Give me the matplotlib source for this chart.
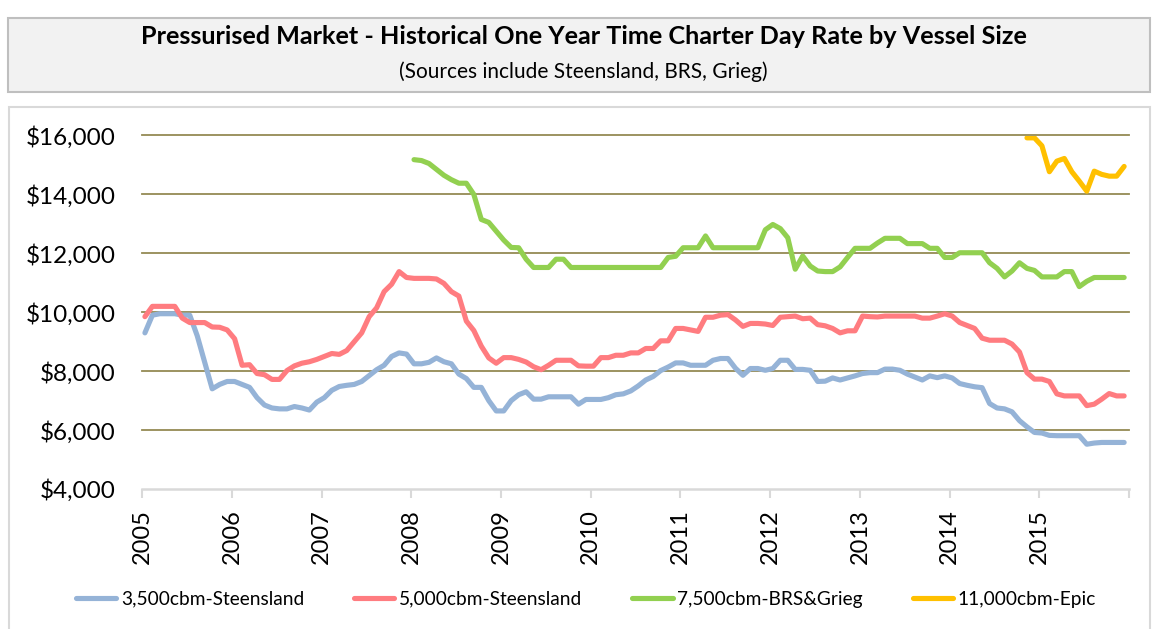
import numpy as np
import matplotlib
matplotlib.use("Agg")
import matplotlib.pyplot as plt
from matplotlib.patches import Rectangle

plt.rcParams['font.family'] = ['Lato', 'DejaVu Sans']

# monthly series, Jan 2005 .. Dec 2015
years = list(range(2005, 2017))
year_labels = [str(y) for y in range(2005, 2016)] + [""]
y_ticks = [4000, 6000, 8000, 10000, 12000, 14000, 16000]

rate_3500 = [
    9300, 9900, 9950, 9950, 9950, 9900, 9900, 9200, 8300, 7400, 7550, 7650,
    7650, 7550, 7450, 7100, 6850, 6750, 6720, 6720, 6800, 6750, 6680, 6950,
    7100, 7350, 7480, 7520, 7550, 7650, 7850, 8050, 8200, 8500, 8620, 8580,
    8250, 8250, 8300, 8450, 8320, 8250, 7900, 7750, 7450, 7450, 7000, 6650,
    6650, 7000, 7200, 7300, 7050, 7050, 7130, 7130, 7130, 7130, 6880, 7040,
    7040, 7040, 7100, 7200, 7230, 7330, 7500, 7700, 7820, 8020, 8140, 8280,
    8280, 8200, 8200, 8200, 8370, 8430, 8430, 8100, 7860, 8090, 8090, 8030,
    8090, 8370, 8370, 8060, 8060, 8030, 7650, 7660, 7770, 7700, 7770, 7840,
    7920, 7950, 7950, 8070, 8070, 8030, 7900, 7800, 7700, 7840, 7780, 7840,
    7770, 7580, 7520, 7470, 7440, 6900, 6750, 6720, 6620, 6320, 6110, 5920,
    5900, 5820, 5810, 5810, 5810, 5810, 5520, 5560, 5580, 5580, 5580, 5580,
]

rate_5000 = [
    9850, 10200, 10200, 10200, 10200, 9800, 9650, 9650, 9650, 9500, 9490, 9400,
    9100, 8200, 8220, 7920, 7880, 7720, 7720, 8020, 8180, 8270, 8320, 8400,
    8500, 8600, 8570, 8700, 9000, 9300, 9850, 10150, 10700, 10950, 11380, 11180,
    11150, 11150, 11150, 11130, 10980, 10700, 10550, 9700, 9380, 8850, 8450, 8270,
    8460, 8460, 8400, 8310, 8150, 8050, 8200, 8370, 8370, 8370, 8180, 8170,
    8170, 8460, 8460, 8540, 8540, 8620, 8620, 8770, 8770, 9030, 9030, 9450,
    9450, 9400, 9350, 9830, 9830, 9900, 9920, 9740, 9520, 9620, 9620, 9600,
    9550, 9830, 9850, 9870, 9780, 9800, 9580, 9540, 9450, 9300, 9370, 9370,
    9870, 9850, 9840, 9870, 9870, 9870, 9870, 9870, 9800, 9800, 9870, 9950,
    9870, 9650, 9550, 9450, 9120, 9050, 9050, 9050, 8920, 8650, 7950, 7730,
    7730, 7650, 7230, 7160, 7160, 7160, 6830, 6880, 7050, 7240, 7160, 7160,
]

# starts Jan 2008
rate_7500 = [
    15180, 15150, 15050, 14850, 14650, 14500, 14380, 14380, 14000, 13150, 13050, 12750,
    12450, 12200, 12190, 11800, 11520, 11520, 11520, 11800, 11800, 11520, 11520, 11520,
    11520, 11520, 11520, 11520, 11520, 11520, 11520, 11520, 11520, 11520, 11860, 11900,
    12190, 12190, 12190, 12590, 12190, 12190, 12190, 12190, 12190, 12190, 12190, 12800,
    12980, 12840, 12530, 11460, 11910, 11570, 11400, 11380, 11380, 11540, 11860, 12170,
    12170, 12170, 12350, 12510, 12510, 12510, 12330, 12330, 12330, 12170, 12170, 11860,
    11860, 12020, 12020, 12020, 12020, 11680, 11490, 11200, 11400, 11680, 11490, 11420,
    11200, 11200, 11200, 11380, 11380, 10870, 11050, 11180, 11180, 11180, 11180, 11180,
]

# starts Nov 2014
rate_11000 = [15920, 15920, 15650, 14770, 15130, 15220, 14770, 14450, 14110,
              14790, 14680, 14620, 14620, 14950]

labels = ["3,500cbm-Steensland", "5,000cbm-Steensland",
          "7,500cbm-BRS&Grieg", "11,000cbm-Epic"]
colors = ["#95b3d7", "#ff7c80", "#92d050", "#ffc000"]


def month_x(start_index, n):
    idx = np.arange(start_index, start_index + n)
    return 2005 + (idx + 0.35) / 12.0


W, H = 1156, 629
fig = plt.figure(figsize=(W / 100, H / 100), dpi=100)

# title box
fig.patches.append(Rectangle((8 / W, 1 - 92 / H), 1142 / W, 74 / H,
                             transform=fig.transFigure, facecolor="#f2f2f2",
                             edgecolor="#bfbfbf", lw=1.5, zorder=-2))
# chart area border
fig.patches.append(Rectangle((9 / W, -0.02), 1141 / W, 1 - 107 / H + 0.02,
                             transform=fig.transFigure, facecolor="white",
                             edgecolor="#d9d9d9", lw=1.5, zorder=-2))

fig.text(0.505, 1 - 37 / H,
         "Pressurised Market - Historical One Year Time Charter Day Rate by Vessel Size",
         ha="center", va="center", fontsize=18.2, fontweight="bold", color="black")
fig.text(0.505, 1 - 72 / H, "(Sources include Steensland, BRS, Grieg)",
         ha="center", va="center", fontsize=15, color="black")

ax = fig.add_axes([142.3 / W, 1 - 489 / H, (1129 - 142.3) / W, (489 - 135.5) / H])
ax.set_zorder(2)
ax.patch.set_alpha(0)

series = [(rate_3500, 0), (rate_5000, 0), (rate_7500, 36), (rate_11000, 118)]
handles = []
for (vals, start), lab, col in zip(series, labels, colors):
    ln, = ax.plot(month_x(start, len(vals)), vals, color=col, lw=3.7,
                  solid_capstyle="round", solid_joinstyle="round", label=lab, zorder=3)
    handles.append(ln)

for v in y_ticks[1:]:
    ax.axhline(v, color="#948a54", lw=1.3, clip_on=False, zorder=1)

ax.set_xlim(2005, 2016)
ax.set_ylim(4000, 16000)
ax.set_yticks(y_ticks)
ax.set_yticklabels(["${:,}".format(v) for v in y_ticks])
ax.set_xticks(years)
ax.set_xticklabels(year_labels, rotation=90)

for s in ["left", "right", "top"]:
    ax.spines[s].set_visible(False)
ax.spines["bottom"].set_color("#d9d9d9")
ax.spines["bottom"].set_linewidth(1.8)

ax.tick_params(axis="y", length=0, pad=19, labelsize=17.5)
ax.tick_params(axis="x", length=6.5, width=1.5, color="#d9d9d9", pad=8, labelsize=17)

fig.legend(handles=handles, loc="center", bbox_to_anchor=(0.507, 1 - 599 / H),
           ncol=4, frameon=False, fontsize=13.8, handlelength=2.1,
           handletextpad=0.25, columnspacing=2.6)

fig.savefig("out.png", dpi=100)
